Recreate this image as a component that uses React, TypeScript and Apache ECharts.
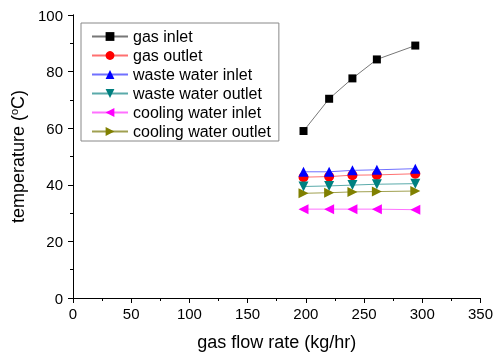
import React, { useEffect, useRef } from "react";
import * as echarts from "echarts";

const flowRate = [198, 220, 240, 261, 294];
const gasInlet = [59, 70.4, 77.6, 84.3, 89.2];
const gasOutlet = [42.7, 42.9, 43.4, 43.5, 43.9];
const wasteWaterInlet = [44.6, 44.6, 45.1, 45.3, 45.7];
const wasteWaterOutlet = [39.4, 39.6, 39.9, 40.2, 40.4];
const coolingWaterInlet = [31.4, 31.4, 31.4, 31.4, 31.2];
const coolingWaterOutlet = [37.0, 37.2, 37.5, 37.6, 37.8];

const seriesNames = [
  "gas inlet",
  "gas outlet",
  "waste water inlet",
  "waste water outlet",
  "cooling water inlet",
  "cooling water outlet",
];
const seriesValues = [gasInlet, gasOutlet, wasteWaterInlet, wasteWaterOutlet, coolingWaterInlet, coolingWaterOutlet];
const markerColors = ["#000000", "#ff0000", "#0000ff", "#008080", "#ff00ff", "#808000"];
const lineColors = ["#777777", "#ff7070", "#7070ff", "#5aaaaa", "#ff70ff", "#a0a050"];
const symbols = ["rect", "circle", "triangle", "triangle", "triangle", "triangle"];
const symbolRotates = [0, 0, 0, 180, 90, -90];
const symbolSizes = [8, 10, 10, 10, 10, 10];

const FONT = "Liberation Sans, Arial, sans-serif";

export default function App() {
  const ref = useRef<HTMLDivElement>(null);
  useEffect(() => {
    if (!ref.current) return;
    const chart = echarts.init(ref.current, undefined, { renderer: "svg" });
    const axisCommon = {
      axisLine: { show: true, lineStyle: { color: "#000", width: 1 } },
      splitLine: { show: false },
    };
    chart.setOption({
      animation: false,
      textStyle: { fontFamily: FONT },
      grid: { left: 73, right: 14, top: 15, bottom: 55, containLabel: false },
      legend: {
        orient: "vertical",
        left: 81,
        top: 23,
        data: seriesNames,
        itemWidth: 36,
        itemHeight: 11,
        itemGap: 2,
        padding: [5, 8, 1, 10],
        borderColor: "#888",
        borderWidth: 1,
        textStyle: { fontSize: 16, color: "#000", fontFamily: FONT, lineHeight: 17 },
      },
      xAxis: [
        {
          type: "value",
          position: "bottom",
          min: 0,
          max: 350,
          interval: 50,
          name: "gas flow rate (kg/hr)",
          nameLocation: "middle",
          nameGap: 35,
          nameTextStyle: { fontSize: 18, color: "#000", fontFamily: FONT },
          axisLabel: { fontSize: 15, color: "#000", margin: 8, fontFamily: FONT },
          axisTick: { show: true, inside: false, length: 5, lineStyle: { color: "#000" } },
          minorTick: { show: true, splitNumber: 2, length: 3, lineStyle: { color: "#000" } },
          ...axisCommon,
        },
        {
          type: "value",
          position: "top",
          min: 0,
          max: 350,
          interval: 50,
          axisLabel: { show: false },
          axisTick: { show: true, inside: true, length: 5, lineStyle: { color: "#000" } },
          minorTick: { show: true, splitNumber: 2, length: 3, lineStyle: { color: "#000" } },
          ...axisCommon,
        },
      ],
      yAxis: [
        {
          type: "value",
          position: "left",
          min: 0,
          max: 100,
          interval: 20,
          name: "temperature ({sup|o}C)",
          nameLocation: "middle",
          nameGap: 45,
          nameRotate: 90,
          nameTextStyle: {
            fontSize: 18,
            color: "#000",
            fontFamily: FONT,
            rich: {
              sup: { fontSize: 11, verticalAlign: "top", color: "#000", fontFamily: FONT, padding: [0, 0, 8, 0] },
            },
          },
          axisLabel: { fontSize: 15, color: "#000", margin: 10, fontFamily: FONT },
          axisTick: { show: true, inside: false, length: 5, lineStyle: { color: "#000" } },
          minorTick: { show: true, splitNumber: 2, length: 3, lineStyle: { color: "#000" } },
          ...axisCommon,
        },
        {
          type: "value",
          position: "right",
          min: 0,
          max: 100,
          interval: 20,
          axisLabel: { show: false },
          axisTick: { show: true, inside: true, length: 5, lineStyle: { color: "#000" } },
          minorTick: { show: true, splitNumber: 2, length: 3, lineStyle: { color: "#000" } },
          ...axisCommon,
        },
      ],
      series: seriesNames.map((name, i) => ({
        name,
        type: "line",
        xAxisIndex: 0,
        yAxisIndex: 0,
        data: flowRate.map((x, j) => [x, seriesValues[i][j]]),
        symbol: symbols[i],
        symbolSize: symbolSizes[i],
        symbolRotate: symbolRotates[i],
        itemStyle: { color: markerColors[i] },
        lineStyle: { color: lineColors[i], width: 1 },
        emphasis: { disabled: true },
      })),
    });
    return () => chart.dispose();
  }, []);
  return <div ref={ref} style={{ position: "fixed", left: 0, top: 0, width: 496, height: 356 }} />;
}
